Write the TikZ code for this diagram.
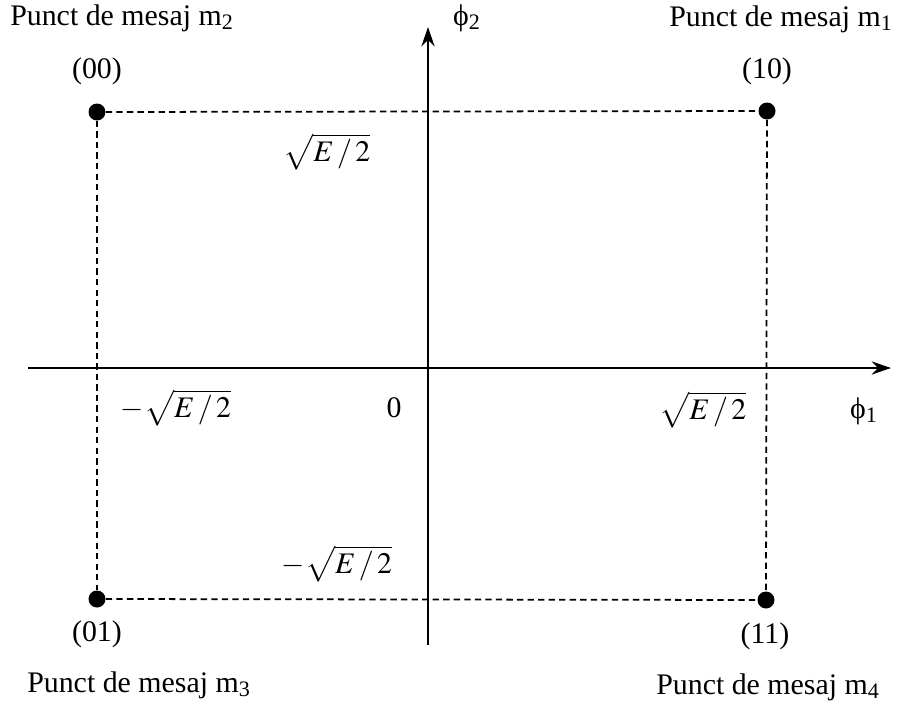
\documentclass[tikz,border=0pt]{standalone}
\usepackage{mathptmx}
\usepackage{fontspec}
\setmainfont{Liberation Serif}
\usetikzlibrary{arrows.meta}

\begin{document}
\begin{tikzpicture}[x=0.02cm, y=-0.02cm,
    every node/.style={font=\fontsize{17}{20}\selectfont, inner sep=1pt},
    msgpoint/.style={circle, fill=black, inner sep=0pt, minimum size=0.34cm},
    axisline/.style={line width=1.1pt, -{Stealth[length=11pt, width=7.5pt]}},
    gridline/.style={line width=1pt, dash pattern=on 3.6pt off 2.4pt}]

    % Fix the page to the reference size
    \useasboundingbox (0,0) rectangle (900,704);

    % Ends of the axes
    \coordinate (xstart) at (28,368);
    \coordinate (xend) at (891,368);
    \coordinate (ystart) at (428,645);
    \coordinate (yend) at (428,27);

    % Draw axes
    \draw[axisline] (xstart) -- (xend);
    \draw[axisline] (ystart) -- (yend);

    % Message points
    \node[msgpoint] (m1) at (767,111) {};
    \node[msgpoint] (m2) at (97,112) {};
    \node[msgpoint] (m3) at (97,599) {};
    \node[msgpoint] (m4) at (766,600) {};

    % Dashed projections
    \draw[gridline] (m2) -- (m1);
    \draw[gridline] (m3) -- (m4);
    \draw[gridline] (m2) -- (m3);
    \draw[gridline] (m1) -- (m4);

    % Axis labels
    \node (phi2) at (467,18) {ϕ\textsubscript{2}};
    \node (phi1) at (864,411) {ϕ\textsubscript{1}};
    \node (origin) at (394,408) {0};

    % Coordinate values
    \node (ytop) at (327,152) {$\sqrt{E\,/\,2}$};
    \node (ybottom) at (337,564) {$-\sqrt{E\,/\,2}$};
    \node (xleft) at (176,408) {$-\sqrt{E\,/\,2}$};
    \node (xright) at (703,410) {$\sqrt{E\,/\,2}$};

    % Bit labels
    \node (b10) at (767,71) {(10)};
    \node (b00) at (97,71) {(00)};
    \node (b01) at (97,634) {(01)};
    \node (b11) at (765,636) {(11)};

    % Message names
    \node (n1) at (781,19) {Punct de mesaj m\textsubscript{1}};
    \node (n2) at (122,18) {Punct de mesaj m\textsubscript{2}};
    \node (n3) at (139,685) {Punct de mesaj m\textsubscript{3}};
    \node (n4) at (768,687) {Punct de mesaj m\textsubscript{4}};

\end{tikzpicture}
\end{document}
